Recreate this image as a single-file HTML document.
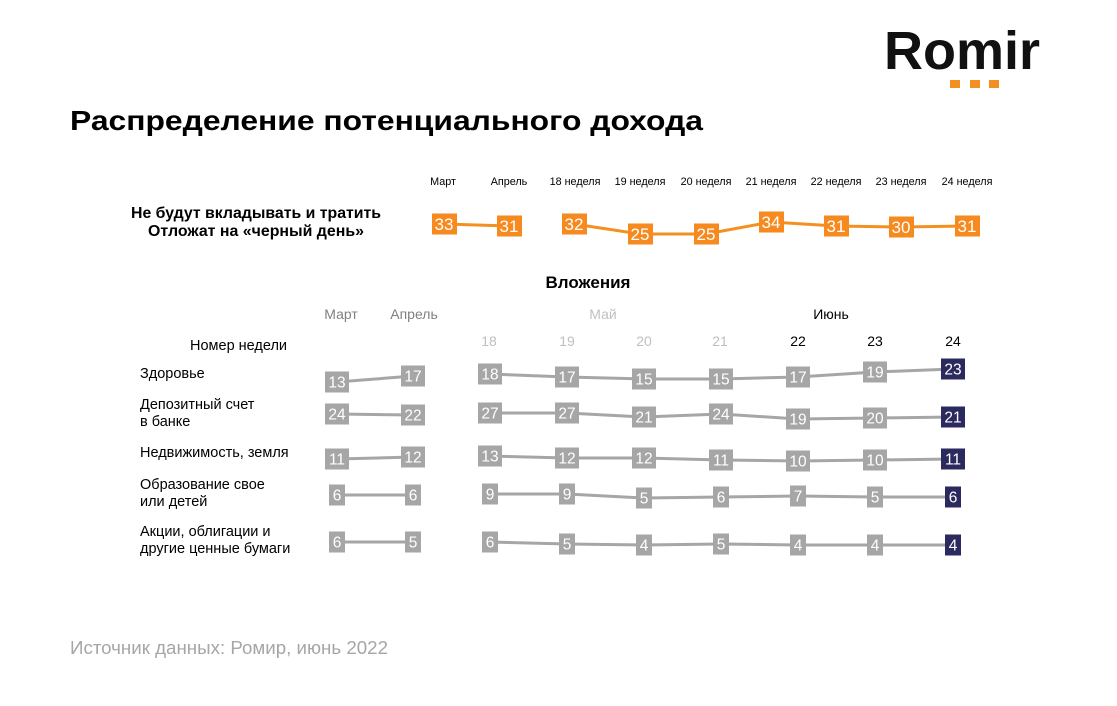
<!DOCTYPE html>
<html><head><meta charset="utf-8"><style>
html,body{margin:0;padding:0;background:#fff;}
svg{display:block;font-family:"Liberation Sans",Arial,sans-serif;}
</style></head><body>
<svg width="1117" height="706" viewBox="0 0 1117 706" xmlns="http://www.w3.org/2000/svg">
<rect width="1117" height="706" fill="#fff"/>
<!-- logo -->
<text x="884" y="69" font-size="54" font-weight="bold" fill="#111" textLength="156" lengthAdjust="spacingAndGlyphs">Romir</text>
<rect x="950" y="80" width="10" height="8" fill="#F39021"/>
<rect x="970" y="80" width="10" height="8" fill="#F39021"/>
<rect x="989" y="80" width="10" height="8" fill="#F39021"/>
<!-- title -->
<text x="70" y="130" font-size="28" font-weight="bold" fill="#000" textLength="633" lengthAdjust="spacingAndGlyphs">Распределение потенциального дохода</text>
<!-- top section labels -->
<g font-size="10.8" fill="#000" text-anchor="middle">
<text x="443" y="185">Март</text><text x="509" y="185">Апрель</text><text x="575" y="185">18 неделя</text><text x="640" y="185">19 неделя</text><text x="706" y="185">20 неделя</text><text x="771" y="185">21 неделя</text><text x="836" y="185">22 неделя</text><text x="901" y="185">23 неделя</text><text x="967" y="185">24 неделя</text>
</g>
<g font-size="15.5" font-weight="bold" fill="#000" text-anchor="middle">
<text x="256" y="218" textLength="250" lengthAdjust="spacingAndGlyphs">Не будут вкладывать и тратить</text>
<text x="256" y="236" textLength="216" lengthAdjust="spacingAndGlyphs">Отложат на «черный день»</text>
</g>
<!-- orange line -->
<g stroke="#F39021" stroke-width="3" fill="none">
<polyline points="444,224 509,226"/>
<polyline points="574,224 640,234 706,234 771,222 836,226 901,227 967,226"/>
</g>
<g fill="#F68A1E">
<rect x="432" y="213.5" width="25" height="21"/><rect x="497" y="215.5" width="25" height="21"/><rect x="562" y="213.5" width="25" height="21"/><rect x="628" y="223.5" width="25" height="21"/><rect x="694" y="223.5" width="25" height="21"/><rect x="759" y="211.5" width="25" height="21"/><rect x="824" y="215.5" width="25" height="21"/><rect x="889" y="216.5" width="25" height="21"/><rect x="955" y="215.5" width="25" height="21"/>
</g>
<g font-size="17" fill="#fff" text-anchor="middle">
<text x="444" y="230">33</text><text x="509" y="232">31</text><text x="574" y="230">32</text><text x="640" y="240">25</text><text x="706" y="240">25</text><text x="771" y="228">34</text><text x="836" y="232">31</text><text x="901" y="233">30</text><text x="967" y="232">31</text>
</g>
<!-- Вложения -->
<text x="588" y="288" font-size="17" font-weight="bold" text-anchor="middle" fill="#000">Вложения</text>
<g font-size="14" text-anchor="middle">
<text x="341" y="319" fill="#808080">Март</text>
<text x="414" y="319" fill="#808080">Апрель</text>
<text x="603" y="319" fill="#C0C0C0">Май</text>
<text x="831" y="319" fill="#000">Июнь</text>
<text x="489" y="346" fill="#BFBFBF">18</text><text x="567" y="346" fill="#BFBFBF">19</text><text x="644" y="346" fill="#BFBFBF">20</text><text x="720" y="346" fill="#BFBFBF">21</text>
<text x="798" y="346" fill="#000">22</text><text x="875" y="346" fill="#000">23</text><text x="953" y="346" fill="#000">24</text>
</g>
<g font-size="14.5" fill="#000">
<text x="190" y="350">Номер недели</text>
<text x="140" y="378">Здоровье</text>
<text x="140" y="409">Депозитный счет</text>
<text x="140" y="426">в банке</text>
<text x="140" y="457">Недвижимость, земля</text>
<text x="140" y="489">Образование свое</text>
<text x="140" y="506">или детей</text>
<text x="140" y="536">Акции, облигации и</text>
<text x="140" y="553">другие ценные бумаги</text>
</g>
<!-- lines -->
<g stroke="#A6A6A6" stroke-width="3" fill="none">
<polyline points="337,382 413,376"/><polyline points="490,374 567,377 644,379 721,379 798,377 875,372 953,369"/>
<polyline points="337,414 413,415"/><polyline points="490,413 567,413 644,417 721,414 798,419 875,418 953,417"/>
<polyline points="337,459 413,457"/><polyline points="490,456 567,458 644,458 721,460 798,461 875,460 953,459"/>
<polyline points="337,495 413,495"/><polyline points="490,494 567,494 644,498 721,497 798,496 875,497 953,497"/>
<polyline points="337,542 413,542"/><polyline points="490,542 567,544 644,545 721,544 798,545 875,545 953,545"/>
</g>
<!-- boxes -->
<g fill="#A6A6A6">
<rect x="325" y="371.5" width="24" height="21"/><rect x="401" y="365.5" width="24" height="21"/><rect x="478" y="363.5" width="24" height="21"/><rect x="555" y="366.5" width="24" height="21"/><rect x="632" y="368.5" width="24" height="21"/><rect x="709" y="368.5" width="24" height="21"/><rect x="786" y="366.5" width="24" height="21"/><rect x="863" y="361.5" width="24" height="21"/>
<rect x="325" y="403.5" width="24" height="21"/><rect x="401" y="404.5" width="24" height="21"/><rect x="478" y="402.5" width="24" height="21"/><rect x="555" y="402.5" width="24" height="21"/><rect x="632" y="406.5" width="24" height="21"/><rect x="709" y="403.5" width="24" height="21"/><rect x="786" y="408.5" width="24" height="21"/><rect x="863" y="407.5" width="24" height="21"/>
<rect x="325" y="448.5" width="24" height="21"/><rect x="401" y="446.5" width="24" height="21"/><rect x="478" y="445.5" width="24" height="21"/><rect x="555" y="447.5" width="24" height="21"/><rect x="632" y="447.5" width="24" height="21"/><rect x="709" y="449.5" width="24" height="21"/><rect x="786" y="450.5" width="24" height="21"/><rect x="863" y="449.5" width="24" height="21"/>
<rect x="329" y="484.5" width="16" height="21"/><rect x="405" y="484.5" width="16" height="21"/><rect x="482" y="483.5" width="16" height="21"/><rect x="559" y="483.5" width="16" height="21"/><rect x="636" y="487.5" width="16" height="21"/><rect x="713" y="486.5" width="16" height="21"/><rect x="790" y="485.5" width="16" height="21"/><rect x="867" y="486.5" width="16" height="21"/>
<rect x="329" y="531.5" width="16" height="21"/><rect x="405" y="531.5" width="16" height="21"/><rect x="482" y="531.5" width="16" height="21"/><rect x="559" y="533.5" width="16" height="21"/><rect x="636" y="534.5" width="16" height="21"/><rect x="713" y="533.5" width="16" height="21"/><rect x="790" y="534.5" width="16" height="21"/><rect x="867" y="534.5" width="16" height="21"/>
</g>
<g fill="#2B2A5F">
<rect x="941" y="358.5" width="24" height="21"/>
<rect x="941" y="406.5" width="24" height="21"/>
<rect x="941" y="448.5" width="24" height="21"/>
<rect x="945" y="486.5" width="16" height="21"/>
<rect x="945" y="534.5" width="16" height="21"/>
</g>
<g font-size="15.5" fill="#fff" text-anchor="middle">
<text x="337" y="387.5">13</text><text x="413" y="381.5">17</text><text x="490" y="379.5">18</text><text x="567" y="382.5">17</text><text x="644" y="384.5">15</text><text x="721" y="384.5">15</text><text x="798" y="382.5">17</text><text x="875" y="377.5">19</text><text x="953" y="374.5">23</text>
<text x="337" y="419.5">24</text><text x="413" y="420.5">22</text><text x="490" y="418.5">27</text><text x="567" y="418.5">27</text><text x="644" y="422.5">21</text><text x="721" y="419.5">24</text><text x="798" y="424.5">19</text><text x="875" y="423.5">20</text><text x="953" y="422.5">21</text>
<text x="337" y="464.5">11</text><text x="413" y="462.5">12</text><text x="490" y="461.5">13</text><text x="567" y="463.5">12</text><text x="644" y="463.5">12</text><text x="721" y="465.5">11</text><text x="798" y="466.5">10</text><text x="875" y="465.5">10</text><text x="953" y="464.5">11</text>
<text x="337" y="500.5">6</text><text x="413" y="500.5">6</text><text x="490" y="499.5">9</text><text x="567" y="499.5">9</text><text x="644" y="503.5">5</text><text x="721" y="502.5">6</text><text x="798" y="501.5">7</text><text x="875" y="502.5">5</text><text x="953" y="502.5">6</text>
<text x="337" y="547.5">6</text><text x="413" y="547.5">5</text><text x="490" y="547.5">6</text><text x="567" y="549.5">5</text><text x="644" y="550.5">4</text><text x="721" y="549.5">5</text><text x="798" y="550.5">4</text><text x="875" y="550.5">4</text><text x="953" y="550.5">4</text>
</g>
<!-- footer -->
<text x="70" y="654" font-size="18" fill="#A6A6A6" textLength="318" lengthAdjust="spacingAndGlyphs">Источник данных: Ромир, июнь 2022</text>
</svg>
</body></html>
